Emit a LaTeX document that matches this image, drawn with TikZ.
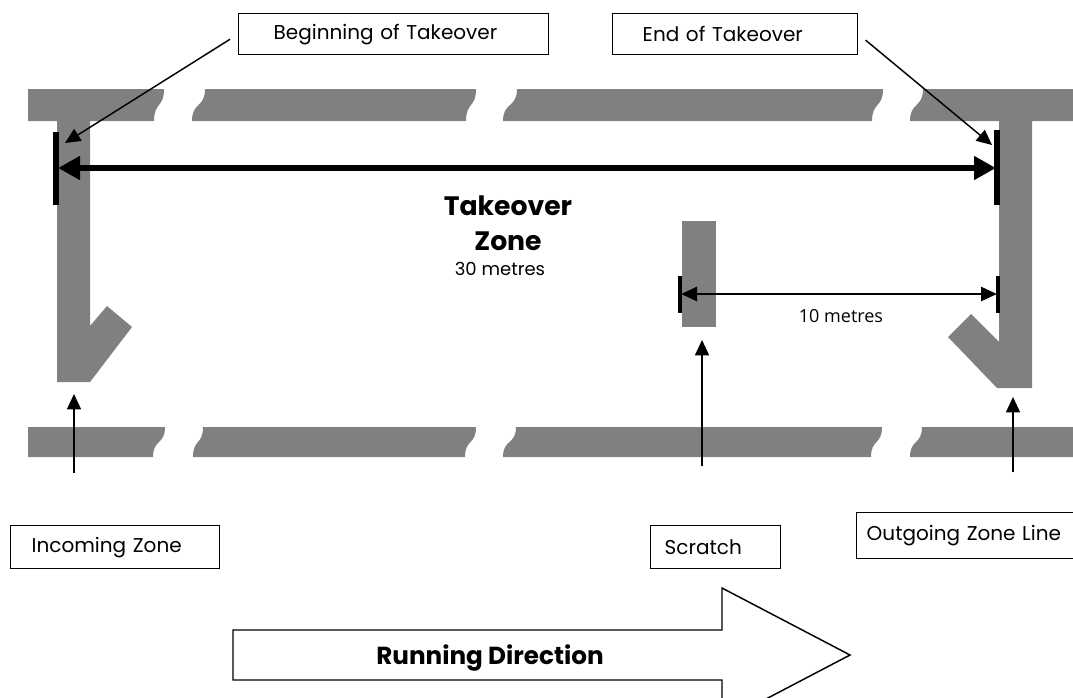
\documentclass[tikz,border=0pt]{standalone}
\usepackage{fontspec}
\setmainfont{Poppins}
\newfontfamily\myriad{Open Sans}
\usetikzlibrary{arrows.meta}
\definecolor{trackgray}{RGB}{128,128,128}
\newcommand\trackseg[6]{%
  \fill[trackgray] (#1,#5) -- (#3,#5)
    .. controls (#3,{#5+0.6*(#6-#5)}) and (#4,{#6-0.6*(#6-#5)}) .. (#4,#6)
    -- (#2,#6)
    .. controls (#2,{#6-0.6*(#6-#5)}) and (#1,{#5+0.6*(#6-#5)}) .. (#1,#5) -- cycle;}
\tikzset{
  labelbox/.style={draw=black, line width=1.1pt, rectangle, anchor=north west,
    align=left, inner ysep=0pt, font=\fontsize{15}{18}\selectfont},
  thinarrow/.style={line width=1.1pt, -{Triangle[length=11.5pt,width=10.5pt]}},
  bigarrow/.style={line width=4.5pt, {Triangle[length=16.5pt,width=17pt]}-{Triangle[length=16.5pt,width=17pt]}},
  midarrow/.style={line width=2pt, {Triangle[length=12pt,width=10.5pt]}-{Triangle[length=12pt,width=10.5pt]}},
  bigtick/.style={line width=3.8pt},
  smalltick/.style={line width=2.3pt}
}
\begin{document}
\begin{tikzpicture}[x=0.75pt,y=-0.75pt]
\useasboundingbox (0,0) rectangle (1073,697);
\fill[white] (0,0) rectangle (1073,697);
\clip (0,0) rectangle (1073,697);

% track bands
\trackseg{28}{28}{164}{154}{89}{121}
\trackseg{205}{192}{476}{466}{89}{121}
\trackseg{517}{503}{883}{872}{89}{121}
\trackseg{923}{910}{1090}{1090}{89}{121}
\trackseg{28}{28}{165}{153}{427}{457}
\trackseg{203}{193}{476}{465}{427}{457}
\trackseg{516}{503}{882}{871}{427}{457}
\trackseg{922}{910}{1090}{1090}{427}{457}

% incoming zone line
\fill[trackgray] (57,110) -- (57,382) -- (90,382) -- (132,327) -- (107,306) -- (90,326) -- (90,110) -- cycle;
% outgoing zone line
\fill[trackgray] (1032,110) -- (1032,388) -- (997,388) -- (948,337) -- (971,314) -- (999,342) -- (999,110) -- cycle;
% scratch line
\fill[trackgray] (682,221) rectangle (716,327);

% 30 m takeover zone
\coordinate (tzL) at (58,168);
\coordinate (tzR) at (996,168);
\draw[bigtick] (56,132) -- (56,205);
\draw[bigtick] (997,130) -- (997,205);
\draw[bigarrow] (tzL) -- (tzR);

\node[font=\bfseries\fontsize{20}{24}\selectfont, anchor=base] (tk1) at (508,215) {Takeover};
\node[font=\bfseries\fontsize{20}{24}\selectfont, anchor=base] (tk2) at (508,250) {Zone};
\node[font=\fontsize{13.5}{16}\selectfont, anchor=base] (tk3) at (500,275) {30 metres};

% 10 m
\coordinate (tmL) at (681,294);
\coordinate (tmR) at (997,294);
\draw[smalltick] (680,276) -- (680,313);
\draw[smalltick] (998,276) -- (998,313);
\draw[midarrow] (tmL) -- (tmR);
\node[font=\myriad\fontsize{13.5}{16}\selectfont, anchor=base] (tenm) at (841,322) {10 metres};

% top boxes
\node[labelbox, minimum height=30.75pt, inner xsep=26.25pt, text width=180pt] (begBox) at (238,13) {Beginning of Takeover};
\node[labelbox, minimum height=30.75pt, inner xsep=22.5pt, text width=138.75pt] (endBox) at (612,13) {End of Takeover};
\coordinate (begTip) at (65,143);
\coordinate (endTip) at (992,145);
\draw[thinarrow, shorten <=7pt] (begBox.west) -- (begTip);
\draw[thinarrow, shorten <=7pt] (endBox.east) -- (endTip);

% bottom boxes
\node[labelbox, minimum height=32.25pt, inner xsep=15.75pt, text width=125.25pt] (inBox) at (10,525) {Incoming Zone};
\node[labelbox, minimum height=32.25pt, inner xsep=10.5pt, text width=76.5pt] (scBox) at (650,525) {Scratch};
\node[labelbox, minimum height=34.5pt, inner xsep=7.5pt, text width=165pt] (outBox) at (856,512) {Outgoing Zone Line};

% up arrows
\coordinate (inTail) at (74,473);
\coordinate (inTip) at (74,394);
\coordinate (scTail) at (702,466);
\coordinate (scTip) at (702,340);
\coordinate (outTail) at (1013,472);
\coordinate (outTip) at (1013,397);
\draw[thinarrow] (inTail) -- (inTip);
\draw[thinarrow] (scTail) -- (scTip);
\draw[thinarrow] (outTail) -- (outTip);

% running direction arrow
\draw[line width=1.1pt, fill=white, line join=miter]
  (233,630) -- (722,630) -- (722,588) -- (850,655) -- (722,722) -- (722,680) -- (233,680) -- cycle;
\node[font=\bfseries\fontsize{18.5}{22}\selectfont, anchor=base] (runDir) at (490,664) {Running Direction};
\end{tikzpicture}
\end{document}
